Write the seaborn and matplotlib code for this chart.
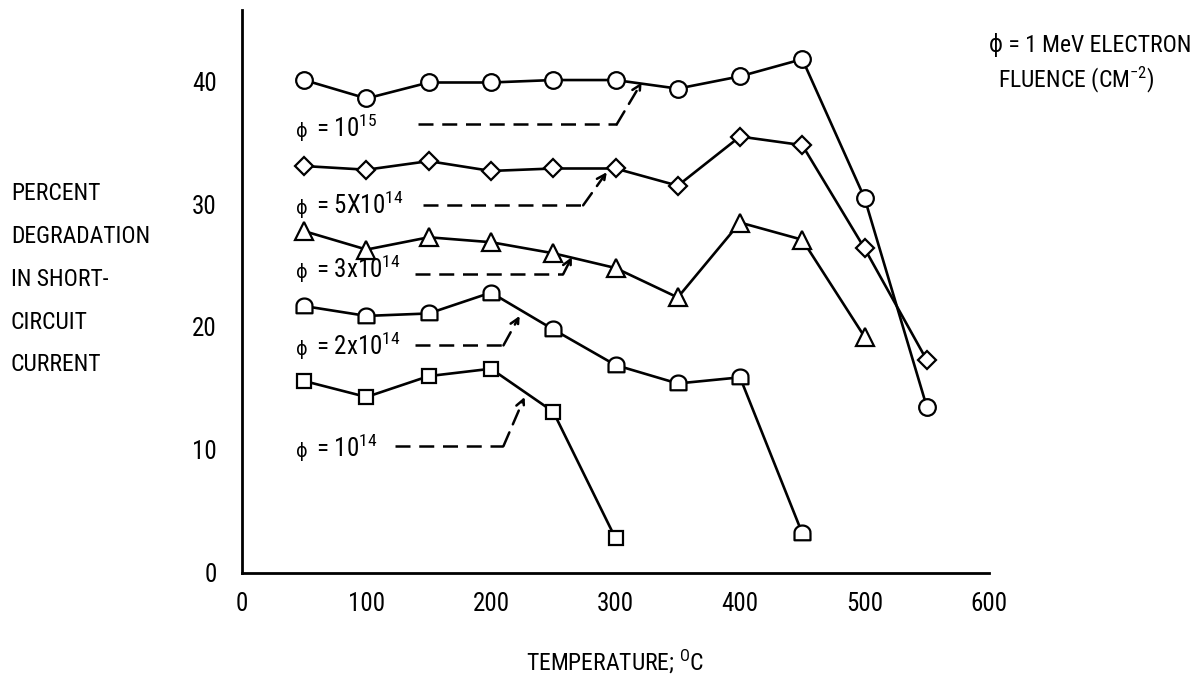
import numpy as np
import pandas as pd
import seaborn as sns
import matplotlib.pyplot as plt
from matplotlib import font_manager
from matplotlib.path import Path

# temperatures (deg C) and percent degradation per fluence
temps = [50, 100, 150, 200, 250, 300, 350, 400, 450, 500, 550]
deg_1e15 = [40.1, 38.6, 39.9, 39.9, 40.1, 40.1, 39.4, 40.4, 41.8, 30.5, 13.5]
deg_5e14 = [33.1, 32.8, 33.5, 32.7, 32.9, 32.9, 31.5, 35.5, 34.8, 26.4, 17.3]
deg_3e14 = [27.8, 26.3, 27.3, 26.9, 26.0, 24.8, 22.4, 28.5, 27.1, 19.2]
deg_2e14 = [21.7, 20.9, 21.1, 22.8, 19.8, 16.9, 15.4, 15.9, 3.2]
deg_1e14 = [15.6, 14.3, 16.0, 16.6, 13.1, 2.8]

labels = ['= 10$^{15}$', '= 5X10$^{14}$', '= 3x10$^{14}$',
          '= 2x10$^{14}$', '= 10$^{14}$']
xticks = [0, 100, 200, 300, 400, 500, 600]
yticks = [0, 10, 20, 30, 40]

# arch shaped marker (round top, flat bottom)
t = np.linspace(0, np.pi, 20)
arch = Path(np.vstack([np.c_[np.cos(t), np.sin(t) * 0.9 + 0.1],
                       [[-1, -0.85], [1, -0.85], [1, 0.1]]]))

sns.set_style('white')
avail = {f.name for f in font_manager.fontManager.ttflist}
fam = 'DejaVu Sans'
for cand in ['Liberation Sans Narrow', 'Roboto Condensed', 'Open Sans Condensed']:
    if cand in avail:
        fam = cand
        break
plt.rcParams['font.family'] = [fam, 'DejaVu Sans']
plt.rcParams['font.stretch'] = 'condensed'
plt.rcParams['mathtext.fontset'] = 'custom'
plt.rcParams['mathtext.rm'] = fam
plt.rcParams['mathtext.it'] = fam
plt.rcParams['text.color'] = 'black'
plt.rcParams['axes.labelcolor'] = 'black'
plt.rcParams['xtick.color'] = 'black'
plt.rcParams['ytick.color'] = 'black'

fig, ax = plt.subplots(figsize=(11.99, 6.95), dpi=100)
fig.subplots_adjust(left=0.2018, right=0.8249, bottom=0.176, top=0.9856)

series = [(deg_1e15, 'o', 12), (deg_5e14, 'D', 9), (deg_3e14, '^', 12.5),
          (deg_2e14, arch, 11.5), (deg_1e14, 's', 10.5)]
for vals, mk, ms in series:
    sns.lineplot(x=temps[:len(vals)], y=vals, marker=mk, ms=ms, color='black',
                 mfc='white', mec='black', mew=1.6, lw=1.9, ax=ax, clip_on=False)

# labels with dashed leader arrows
lab_y = [35.5, 29.2, 24.0, 17.7, 9.45]
dash_y = [36.5, 29.9, 24.3, 18.5, 10.3]
dash_x0 = [141, 145, 139, 139, 123]
dash_x1 = [301, 274, 258, 210, 210]
tips = [(321, 39.9), (293, 32.6), (265, 25.7), (223, 20.9), (227, 14.3)]
for lab, ly, dy, x0, x1, tip in zip(labels, lab_y, dash_y, dash_x0, dash_x1, tips):
    ax.text(43, ly, 'ϕ', fontsize=14, va='baseline', ha='left', family='DejaVu Sans')
    ax.annotate(lab, xy=(43, ly), xytext=(15, 0), textcoords='offset points',
                fontsize=18, va='baseline', ha='left')
    ax.plot([x0, x1], [dy, dy], color='black', lw=1.8, ls=(0, (6, 3.5)))
    ax.annotate('', xy=tip, xytext=(x1, dy),
                arrowprops=dict(arrowstyle='->,head_length=0.6,head_width=0.3',
                                ls=(0, (6, 3.5)), lw=1.8, color='black',
                                shrinkA=0, shrinkB=0))

ax.set_xlim(0, 600)
ax.set_ylim(0, 45.8)
ax.set_xticks(xticks)
ax.set_yticks(yticks)
ax.tick_params(direction='in', length=10, width=2, labelsize=18, color='black')
ax.tick_params(axis='y', pad=18)
ax.tick_params(axis='x', pad=14)
sns.despine(ax=ax)
for s in ['left', 'bottom']:
    ax.spines[s].set_linewidth(2)
    ax.spines[s].set_color('black')

ax.set_xlabel('TEMPERATURE; $^{O}$C', fontsize=17, labelpad=22)
ax.set_ylabel('')
fig.text(0.009, 0.598, 'PERCENT\nDEGRADATION\nIN SHORT-\nCIRCUIT\nCURRENT',
         fontsize=17, ha='left', va='center', linespacing=2.1)
fig.text(0.994, 0.935, 'ϕ = 1 MeV ELECTRON', fontsize=17, ha='right', va='center')
fig.text(0.832, 0.885, 'FLUENCE (CM$^{-2}$)', fontsize=17, ha='left', va='center')

fig.savefig('out.png', dpi=100)
